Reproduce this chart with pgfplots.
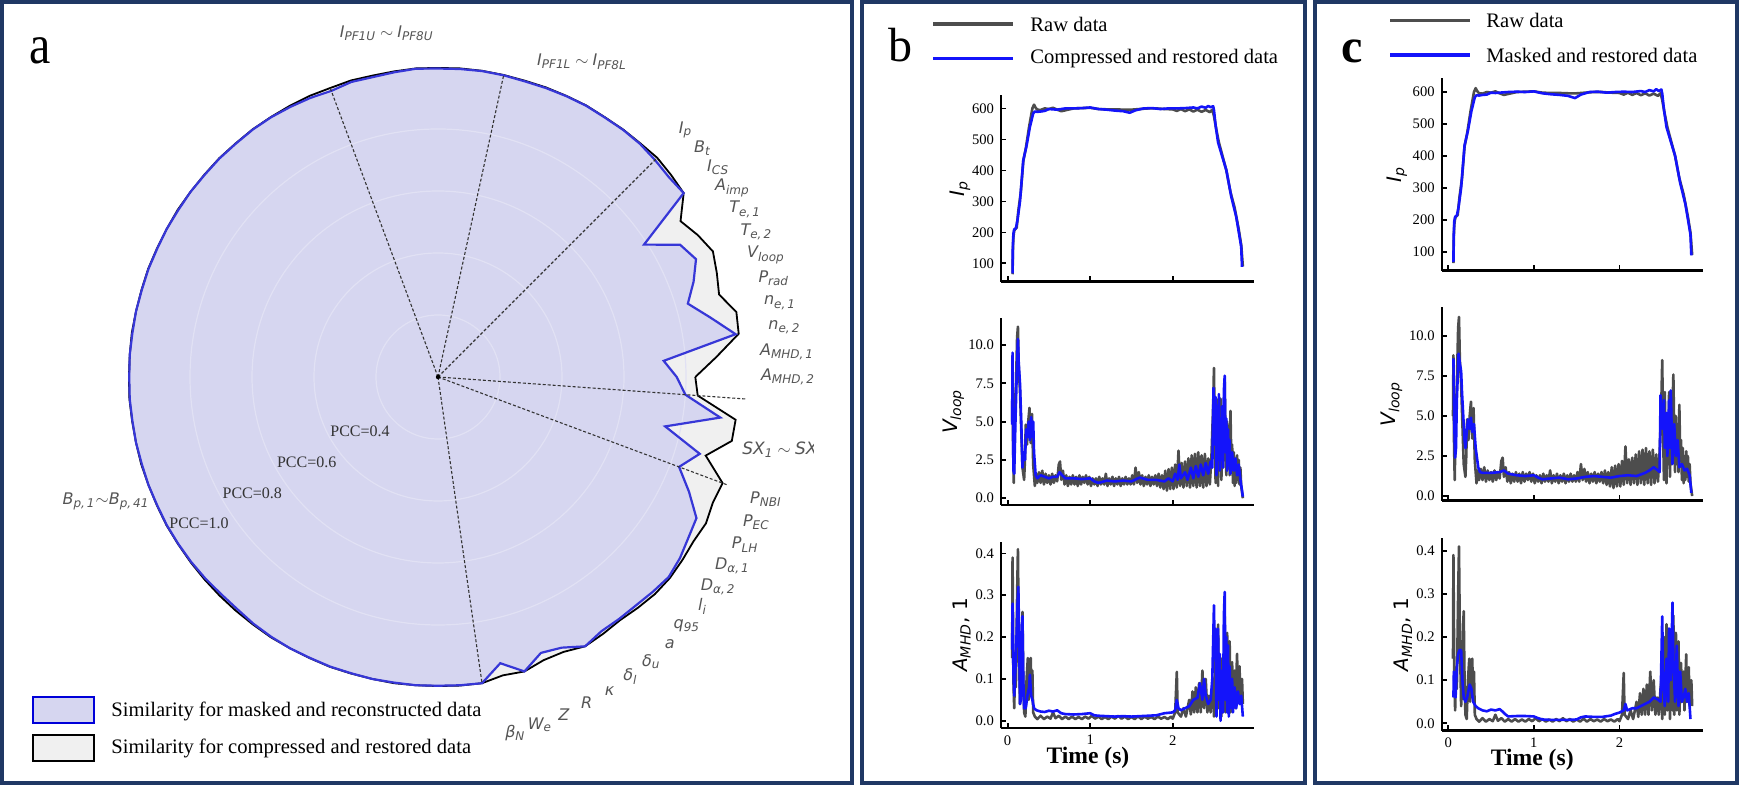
\documentclass[border=0pt]{standalone}
\usepackage{fontspec}
\setmainfont{Liberation Serif}
\newfontfamily\dvs{DejaVu Sans}
\usepackage{pgfplots}
\usepackage{pgfplotstable}
\pgfplotsset{compat=1.18}
\definecolor{navy}{HTML}{203864}
\definecolor{rawgrey}{RGB}{77,77,77}
\definecolor{myblue}{RGB}{20,20,250}
\definecolor{lav}{RGB}{214,214,240}
\definecolor{lgrey}{RGB}{240,240,240}
\definecolor{rblue}{RGB}{55,55,215}
\definecolor{labgrey}{RGB}{85,85,85}
\definecolor{ringc}{RGB}{225,225,244}
\newcommand{\rl}[2]{{\dvs\itshape #1\textsubscript{#2}}}
\def\dA{4.0909091}

% ---------------- radar data: k (angle = k*360/88), m = masked, c = compressed
\pgfplotstableread{
k m c
0 0.77 0.83
1 0.73 0.90
2 0.97 0.98
3 0.90 0.985
4 0.84 0.945
5 0.88 0.96
6 0.915 0.975
7 0.89 0.955
8 0.79 0.93
9 0.99 0.99
10 0.985 0.995
11 0.99 1.0
12 0.995 0.997
13 0.996 0.997
14 0.995 0.996
15 0.997 0.998
16 0.996 0.997
17 0.995 0.997
18 0.994 0.996
19 0.996 0.997
20 0.997 0.998
21 0.996 0.998
22 0.995 0.997
23 0.997 0.998
24 0.993 0.996
25 0.990 0.995
26 0.992 0.997
27 0.985 0.995
28 0.990 0.997
29 0.993 0.997
30 0.996 0.997
31 0.997 0.998
32 0.996 0.997
33 0.997 0.998
34 0.996 0.997
35 0.997 0.997
36 0.996 0.998
37 0.997 0.997
38 0.996 0.997
39 0.997 0.998
40 0.996 0.997
41 0.997 0.997
42 0.996 0.998
43 0.997 0.997
44 0.996 0.997
45 0.997 0.998
46 0.996 0.997
47 0.997 0.997
48 0.996 0.998
49 0.997 0.997
50 0.996 0.997
51 0.997 0.998
52 0.996 0.997
53 0.995 0.997
54 0.993 0.997
55 0.990 0.997
56 0.990 0.997
57 0.994 0.997
58 0.996 0.998
59 0.997 0.997
60 0.996 0.997
61 0.997 0.998
62 0.996 0.997
63 0.997 0.997
64 0.996 0.998
65 0.997 0.997
66 0.996 0.997
67 0.997 0.998
68 0.998 0.998
69 0.945 0.985
70 0.99 0.99
71 0.95 0.975
72 0.96 0.975
73 0.99 0.99
74 0.975 0.985
75 0.975 0.98
76 0.975 0.985
77 0.98 0.99
78 0.985 0.99
79 0.975 0.985
80 0.96 0.98
81 0.95 0.985
82 0.89 0.975
83 0.83 0.98
84 0.88 0.90
85 0.75 0.97
86 0.92 0.97
87 0.80 0.84
88 0.77 0.83
}\radar

% ---------------- time series
\pgfplotstableread{
t v
0.060 65
0.065 150
0.070 185
0.080 205
0.095 212
0.110 215
0.130 270
0.160 330
0.190 430
0.220 470
0.260 540
0.300 600
0.320 612
0.340 602
0.360 596
0.400 595
0.450 600
0.500 598
0.550 602
0.600 596
0.650 591
0.700 594
0.800 600
0.900 601
1.000 602
1.100 598
1.200 597
1.300 597
1.400 596
1.500 596
1.600 598
1.700 600
1.800 600
1.900 598
2.000 597
2.050 592
2.100 598
2.150 591
2.200 597
2.250 590
2.300 596
2.350 589
2.400 595
2.450 588
2.480 596
2.500 575
2.530 530
2.560 490
2.600 450
2.650 400
2.700 330
2.750 280
2.800 210
2.830 160
2.850 90
}\rawIp

\pgfplotstableread{
t v
0.060 68
0.063 150
0.070 195
0.080 210
0.100 213
0.120 240
0.150 300
0.190 433
0.230 480
0.270 540
0.310 584
0.330 590
0.360 589
0.400 590
0.450 592
0.500 598
0.550 597
0.600 596
0.650 598
0.700 600
0.800 600
0.900 601
1.000 603
1.100 598
1.200 596
1.300 593
1.400 591
1.480 586
1.550 594
1.650 600
1.750 601
1.850 598
1.950 600
2.050 600
2.150 601
2.250 603
2.300 600
2.350 606
2.400 602
2.430 608
2.460 604
2.490 607
2.500 595
2.520 545
2.550 490
2.600 445
2.650 401
2.710 315
2.770 250
2.830 154
2.840 89
}\bIp

\pgfplotstableread{
t v
0.060 68
0.063 150
0.070 195
0.080 210
0.100 213
0.120 240
0.150 300
0.190 433
0.230 480
0.270 540
0.310 584
0.330 590
0.360 589
0.400 591
0.450 592
0.500 598
0.550 597
0.600 598
0.700 600
0.800 601
0.900 600
1.000 602
1.100 596
1.200 593
1.300 591
1.400 588
1.480 581
1.550 592
1.650 600
1.750 601
1.850 598
1.950 600
2.050 601
2.150 600
2.250 603
2.300 600
2.350 606
2.400 602
2.430 609
2.460 603
2.490 608
2.500 595
2.520 545
2.550 490
2.600 445
2.650 401
2.710 315
2.770 250
2.830 154
2.840 89
}\cIp

\pgfplotstableread{
t v
0.055 5.0
0.060 8.8
0.065 4.0
0.075 1.0
0.085 4.5
0.100 7.0
0.115 10.5
0.125 11.2
0.135 8.5
0.150 7.0
0.165 4.5
0.180 2.0
0.200 1.2
0.210 2.5
0.220 4.8
0.235 3.5
0.250 5.0
0.265 5.9
0.280 3.6
0.295 5.5
0.310 2.2
0.330 0.8
0.345 1.6
0.36 1.0
0.38 1.7
0.40 1.0
0.42 1.8
0.44 0.9
0.46 1.6
0.48 1.0
0.50 1.5
0.52 0.9
0.54 1.6
0.56 1.0
0.58 1.5
0.60 1.1
0.62 2.2
0.635 2.4
0.65 1.2
0.67 1.8
0.69 0.9
0.71 1.5
0.73 0.8
0.75 1.4
0.77 0.9
0.79 1.5
0.81 0.9
0.83 1.4
0.85 0.8
0.87 1.5
0.89 0.9
0.91 1.4
0.93 1.0
0.95 1.5
0.97 0.9
0.99 1.4
1.01 0.8
1.03 1.3
1.05 0.9
1.07 1.3
1.09 0.8
1.11 1.4
1.13 0.9
1.15 1.3
1.17 0.9
1.19 1.6
1.21 0.8
1.23 1.3
1.25 0.9
1.27 1.4
1.29 0.8
1.31 1.3
1.33 0.9
1.35 1.4
1.37 0.8
1.39 1.3
1.41 0.9
1.43 1.4
1.45 0.9
1.47 1.3
1.49 0.9
1.51 1.5
1.53 0.9
1.55 2.0
1.57 1.0
1.59 1.7
1.61 0.9
1.63 1.5
1.65 0.8
1.67 1.4
1.69 0.9
1.71 1.5
1.73 0.8
1.75 1.4
1.77 0.9
1.79 1.5
1.81 0.8
1.83 1.6
1.85 0.7
1.87 1.5
1.89 0.6
1.91 1.8
1.93 0.5
1.95 1.9
1.97 0.6
1.99 2.0
2.01 0.6
2.03 2.2
2.05 0.7
2.07 3.1
2.09 0.8
2.11 2.3
2.13 0.7
2.15 2.4
2.17 0.8
2.19 2.6
2.21 0.7
2.23 2.8
2.25 0.8
2.27 2.9
2.29 0.7
2.31 3.0
2.33 0.8
2.35 2.8
2.37 0.7
2.39 2.9
2.41 0.8
2.43 2.6
2.45 0.9
2.47 2.8
2.49 6.0
2.50 8.5
2.51 4.0
2.52 1.0
2.53 6.5
2.54 3.0
2.55 0.8
2.56 5.0
2.57 2.0
2.58 6.5
2.59 1.2
2.60 4.5
2.61 2.0
2.62 5.5
2.63 7.6
2.64 4.0
2.65 1.5
2.66 5.0
2.67 2.0
2.68 4.5
2.69 1.5
2.70 5.7
2.71 2.5
2.72 3.5
2.73 1.0
2.74 3.0
2.75 0.8
2.76 2.5
2.77 1.0
2.78 2.8
2.79 1.2
2.80 2.5
2.81 0.9
2.82 2.0
2.83 0.8
2.85 0.0
}\rawV

\pgfplotstableread{
t v
0.055 4.8
0.060 9.5
0.070 1.8
0.080 1.6
0.095 5.0
0.110 8.0
0.125 10.4
0.135 8.8
0.150 7.5
0.165 5.0
0.180 2.0
0.195 3.0
0.210 2.5
0.225 4.5
0.240 4.0
0.255 5.0
0.270 3.8
0.285 5.3
0.300 4.0
0.310 5.0
0.320 3.0
0.340 1.5
0.36 1.3
0.40 1.5
0.45 1.4
0.50 1.3
0.55 1.4
0.60 1.4
0.63 1.7
0.66 1.5
0.70 1.3
0.80 1.3
0.90 1.25
1.00 1.3
1.05 1.1
1.10 1.0
1.20 1.15
1.30 1.1
1.40 1.15
1.50 1.1
1.60 1.35
1.70 1.2
1.80 1.2
1.90 1.1
1.95 1.3
2.00 1.1
2.03 1.6
2.06 1.2
2.08 2.2
2.10 1.3
2.15 1.7
2.18 1.2
2.22 2.0
2.25 1.3
2.28 2.1
2.31 1.4
2.34 2.2
2.37 1.5
2.40 2.3
2.43 1.6
2.46 2.4
2.48 2.0
2.495 7.2
2.51 3.5
2.52 6.6
2.53 1.5
2.54 5.5
2.55 2.5
2.56 6.8
2.57 1.8
2.58 5.0
2.59 2.5
2.60 6.0
2.61 2.0
2.62 7.0
2.63 8.0
2.64 3.0
2.65 5.2
2.66 1.8
2.67 4.5
2.68 2.2
2.69 3.8
2.70 1.6
2.72 3.0
2.74 1.8
2.76 2.6
2.78 1.5
2.80 2.2
2.82 1.2
2.84 0.5
2.85 0.1
}\bV

\pgfplotstableread{
t v
0.060 8.6
0.070 4.5
0.080 2.4
0.090 3.0
0.100 6.0
0.120 8.9
0.135 8.3
0.150 7.8
0.160 6.5
0.175 5.0
0.190 3.5
0.200 3.0
0.215 4.0
0.230 4.8
0.250 4.2
0.265 4.9
0.280 4.0
0.300 4.5
0.320 3.0
0.350 1.8
0.370 1.5
0.40 1.45
0.50 1.45
0.60 1.5
0.65 1.6
0.70 1.4
0.80 1.3
0.90 1.25
1.00 1.3
1.05 1.15
1.10 1.05
1.20 1.1
1.30 1.15
1.40 1.05
1.50 1.1
1.60 1.2
1.70 1.25
1.80 1.2
1.90 1.15
2.00 1.25
2.10 1.3
2.20 1.25
2.30 1.45
2.35 1.6
2.40 1.8
2.45 1.6
2.47 1.5
2.48 6.3
2.50 4.2
2.52 6.0
2.53 3.0
2.55 5.2
2.56 2.5
2.58 6.0
2.59 3.0
2.60 6.6
2.62 2.0
2.64 4.5
2.66 2.5
2.68 3.5
2.70 1.8
2.73 2.0
2.76 1.6
2.79 1.7
2.82 1.3
2.84 0.2
}\cV

\pgfplotstableread{
t v
0.055 0.15
0.060 0.39
0.065 0.25
0.070 0.10
0.080 0.03
0.090 0.12
0.100 0.08
0.115 0.30
0.125 0.41
0.135 0.20
0.150 0.04
0.160 0.08
0.170 0.20
0.180 0.26
0.190 0.10
0.200 0.02
0.215 0.01
0.230 0.10
0.245 0.15
0.255 0.05
0.265 0.13
0.280 0.15
0.290 0.06
0.300 0.12
0.310 0.02
0.330 0.01
0.36 0.004
0.40 0.012
0.44 0.004
0.48 0.010
0.52 0.005
0.55 0.020
0.58 0.006
0.62 0.012
0.66 0.004
0.70 0.010
0.74 0.004
0.78 0.010
0.82 0.004
0.86 0.009
0.90 0.004
0.94 0.010
0.98 0.005
1.02 0.012
1.06 0.005
1.10 0.010
1.14 0.004
1.18 0.009
1.22 0.004
1.26 0.010
1.30 0.005
1.34 0.012
1.38 0.005
1.42 0.010
1.46 0.004
1.50 0.009
1.54 0.004
1.58 0.011
1.62 0.004
1.66 0.010
1.70 0.005
1.74 0.009
1.78 0.004
1.82 0.010
1.86 0.005
1.90 0.009
1.94 0.004
1.98 0.010
2.00 0.005
2.03 0.020
2.05 0.117
2.06 0.020
2.10 0.010
2.13 0.030
2.16 0.010
2.20 0.050
2.22 0.015
2.24 0.070
2.26 0.020
2.28 0.080
2.30 0.020
2.32 0.090
2.34 0.020
2.36 0.120
2.38 0.030
2.40 0.100
2.42 0.020
2.44 0.060
2.46 0.020
2.48 0.080
2.49 0.100
2.50 0.010
2.52 0.200
2.53 0.020
2.55 0.230
2.56 0.030
2.58 0.150
2.59 0.010
2.60 0.120
2.62 0.030
2.63 0.250
2.64 0.020
2.66 0.210
2.67 0.030
2.69 0.190
2.70 0.020
2.72 0.140
2.73 0.050
2.75 0.120
2.76 0.030
2.78 0.160
2.79 0.050
2.81 0.130
2.82 0.040
2.84 0.100
2.85 0.040
}\rawA

\pgfplotstableread{
t v
0.055 0.17
0.060 0.28
0.070 0.12
0.080 0.06
0.100 0.15
0.120 0.28
0.130 0.32
0.140 0.20
0.150 0.04
0.160 0.05
0.170 0.18
0.180 0.25
0.190 0.10
0.200 0.03
0.220 0.03
0.240 0.06
0.260 0.08
0.270 0.11
0.285 0.06
0.300 0.05
0.320 0.03
0.350 0.025
0.40 0.022
0.45 0.021
0.50 0.024
0.55 0.022
0.60 0.025
0.65 0.018
0.70 0.016
0.80 0.015
0.90 0.016
1.00 0.018
1.05 0.013
1.10 0.012
1.20 0.011
1.30 0.010
1.40 0.011
1.50 0.010
1.60 0.011
1.70 0.012
1.80 0.013
1.90 0.018
2.00 0.020
2.03 0.025
2.05 0.050
2.07 0.030
2.10 0.025
2.15 0.030
2.20 0.035
2.25 0.050
2.30 0.055
2.33 0.090
2.36 0.050
2.38 0.100
2.40 0.060
2.43 0.040
2.46 0.050
2.48 0.100
2.50 0.276
2.51 0.150
2.52 0.220
2.53 0.010
2.54 0.100
2.55 0.220
2.56 0.050
2.57 0.160
2.58 0.000
2.60 0.120
2.61 0.020
2.62 0.250
2.63 0.308
2.64 0.050
2.65 0.200
2.66 0.020
2.67 0.180
2.68 0.010
2.69 0.130
2.70 0.030
2.72 0.100
2.73 0.020
2.75 0.080
2.77 0.030
2.79 0.070
2.81 0.040
2.83 0.060
2.85 0.010
}\bA

\pgfplotstableread{
t v
0.060 0.06
0.065 0.12
0.075 0.10
0.085 0.06
0.100 0.13
0.115 0.16
0.130 0.17
0.150 0.17
0.165 0.10
0.180 0.06
0.200 0.05
0.220 0.06
0.250 0.09
0.270 0.08
0.290 0.05
0.320 0.04
0.35 0.035
0.40 0.030
0.45 0.028
0.50 0.032
0.55 0.030
0.60 0.033
0.63 0.028
0.66 0.022
0.70 0.016
0.80 0.017
0.90 0.017
1.00 0.016
1.05 0.012
1.10 0.009
1.20 0.008
1.30 0.008
1.40 0.008
1.50 0.009
1.55 0.014
1.60 0.016
1.70 0.015
1.80 0.015
1.90 0.018
1.95 0.022
2.00 0.025
2.05 0.030
2.07 0.045
2.09 0.030
2.15 0.035
2.20 0.035
2.25 0.040
2.30 0.045
2.35 0.050
2.40 0.060
2.45 0.055
2.48 0.050
2.50 0.248
2.51 0.100
2.53 0.040
2.55 0.150
2.57 0.050
2.58 0.220
2.60 0.100
2.62 0.280
2.63 0.150
2.65 0.050
2.67 0.180
2.69 0.040
2.71 0.120
2.73 0.050
2.75 0.060
2.77 0.080
2.79 0.050
2.81 0.070
2.83 0.010
}\cA

\pgfplotsset{
  ts/.style={
    scale only axis,
    axis x line*=bottom, axis y line*=left,
    axis line style={line width=1.2pt,-},
    tick align=inside, major tick length=2.6pt,
    every tick/.style={line width=0.9pt, black},
    ticklabel style={font=\rmfamily\fontsize{7.3}{8}\selectfont},
    /pgf/number format/assume math mode=true,
    xtick={0,1,2},
    every axis plot/.append style={line width=1.3pt, line join=round},
  },
  ipax/.style={ts, ymin=41, ymax=643, ytick={100,200,300,400,500,600}, xticklabels={,,}},
  vax/.style={ts, ymin=-0.44, ymax=11.74, ytick={0,2.5,5,7.5,10}, xticklabels={,,},
     yticklabel style={/pgf/number format/.cd, fixed, fixed zerofill, precision=1}},
  aax/.style={ts, ymin=-0.018, ymax=0.428, ytick={0,0.1,0.2,0.3,0.4},
     yticklabel style={/pgf/number format/.cd, fixed, fixed zerofill, precision=1},
     xlabel={Time (s)}},
}

\begin{document}
\begin{tikzpicture}
\path[use as bounding box] (0,0) rectangle (870.5pt,393pt);

% ================= panel a : radar ==================
\begin{axis}[
  at={(17.5pt,3pt)}, anchor=south west,
  x=155pt, y=155pt, xmin=-1.3, xmax=1.3, ymin=-1.3, ymax=1.3,
  hide axis, clip=false]
\addplot[draw=none, fill=lgrey] table[x expr={\thisrow{c}*cos(\thisrow{k}*\dA)}, y expr={\thisrow{c}*sin(\thisrow{k}*\dA)}] {\radar};
\addplot[draw=none, fill=lav] table[x expr={\thisrow{m}*cos(\thisrow{k}*\dA)}, y expr={\thisrow{m}*sin(\thisrow{k}*\dA)}] {\radar};
\draw[ringc, line width=0.6pt] (axis cs:0,0) circle[radius=31pt];
\draw[ringc, line width=0.6pt] (axis cs:0,0) circle[radius=62pt];
\draw[ringc, line width=0.6pt] (axis cs:0,0) circle[radius=93pt];
\draw[ringc, line width=0.6pt] (axis cs:0,0) circle[radius=124pt];
\addplot[black, line width=0.9pt] table[x expr={\thisrow{c}*cos(\thisrow{k}*\dA)}, y expr={\thisrow{c}*sin(\thisrow{k}*\dA)}] {\radar};
\addplot[rblue, line width=1.1pt] table[x expr={\thisrow{m}*cos(\thisrow{k}*\dA)}, y expr={\thisrow{m}*sin(\thisrow{k}*\dA)}] {\radar};
\end{axis}

\begin{scope}[shift={(219pt,204.5pt)}]
  \foreach \a in {110.4545,77.7273,45,355.9091,339.5455,278.1818}{
    \draw[black!80, line width=0.55pt, dash pattern=on 1.5pt off 1pt] (0,0) -- (\a:155pt);
  }
  \fill[black] (0,0) circle[radius=1.1pt];
  \begin{scope}[every node/.style={text=labgrey, font=\fontsize{8}{9}\selectfont, inner sep=0pt}]
  \node at ({11*\dA}:175pt) {\rl{I}{p}};
  \node at ({10*\dA}:175pt) {\rl{B}{t}};
  \node at ({9*\dA}:175pt) {\rl{I}{CS}};
  \node at ({8*\dA}:175pt) {\rl{A}{imp}};
  \node at ({7*\dA}:175pt) {\rl{T}{e,\,1}};
  \node at ({6*\dA}:175pt) {\rl{T}{e,\,2}};
  \node at ({5*\dA}:175pt) {\rl{V}{loop}};
  \node at ({4*\dA}:175pt) {\rl{P}{rad}};
  \node at ({3*\dA}:175pt) {\rl{n}{e,\,1}};
  \node at ({2*\dA}:175pt) {\rl{n}{e,\,2}};
  \node at ({1*\dA}:175pt) {\rl{A}{MHD,\,1}};
  \node at ({0*\dA}:175pt) {\rl{A}{MHD,\,2}};
  \node at ({83*\dA}:175pt) {\rl{P}{NBI}};
  \node at ({82*\dA}:175pt) {\rl{P}{EC}};
  \node at ({81*\dA}:175pt) {\rl{P}{LH}};
  \node at ({80*\dA}:175pt) {\rl{D}{α,\,1}};
  \node at ({79*\dA}:175pt) {\rl{D}{α,\,2}};
  \node at ({78*\dA}:175pt) {\rl{l}{i}};
  \node at ({77*\dA}:176pt) {\rl{q}{95}};
  \node at ({76*\dA}:177pt) {{\dvs\itshape a}};
  \node at ({75*\dA}:178pt) {\rl{δ}{u}};
  \node at ({74*\dA}:178pt) {\rl{δ}{l}};
  \node at ({73*\dA}:179pt) {{\dvs\itshape κ}};
  \node at ({72*\dA}:179pt) {{\dvs\itshape R}};
  \node at ({71*\dA}:180pt) {{\dvs\itshape Z}};
  \node at ({70*\dA}:181pt) {\rl{W}{e}};
  \node at ({69*\dA}:182pt) {\rl{β}{N}};
  \end{scope}
\end{scope}

% group labels
\node[text=labgrey, font=\fontsize{8}{9}\selectfont] at (193.35pt,376.35pt) {\rl{I}{PF1U} $\sim$ \rl{I}{PF8U}};
\node[text=labgrey, font=\fontsize{8}{9}\selectfont] at (291pt,362.15pt) {\rl{I}{PF1L} $\sim$ \rl{I}{PF8L}};
\node[text=labgrey, font=\fontsize{8}{9}\selectfont] at (53pt,142.15pt) {\rl{B}{p,\,1}$\sim$\rl{B}{p,\,41}};
\begin{scope}
  \clip (300pt,150pt) rectangle (406.5pt,190pt);
  \node[text=labgrey, font=\fontsize{8.5}{9}\selectfont, anchor=west, inner sep=0pt] at (371pt,168pt) {\rl{SX}{1} $\sim$ \rl{SX}{4}};
\end{scope}
% PCC labels
\begin{scope}[every node/.style={text=black!80, font=\fontsize{8}{9}\selectfont, inner sep=0pt}]
  \node at (180pt,177.15pt) {PCC=0.4};
  \node at (153.35pt,161.65pt) {PCC=0.6};
  \node at (126.15pt,146.35pt) {PCC=0.8};
  \node at (99.5pt,131.35pt) {PCC=1.0};
\end{scope}
% legend a
\draw[blue!85!black, line width=1.1pt, fill=lav] (16.5pt,31.5pt) rectangle (47pt,44.5pt);
\draw[black, line width=1.3pt, fill=lgrey] (16.5pt,12.5pt) rectangle (47pt,25.5pt);
\node[anchor=west, inner sep=0pt, font=\fontsize{10.3}{12}\selectfont] at (55.5pt,37.5pt) {Similarity for masked and reconstructed data};
\node[anchor=west, inner sep=0pt, font=\fontsize{10.3}{12}\selectfont] at (55.5pt,18.7pt) {Similarity for compressed and restored data};
\node[font=\fontsize{24}{24}\selectfont] at (20.25pt,367.5pt) {\scalebox{1}[1.15]{a}};

% ================= panel b ==================
\begin{axis}[ipax, at={(500.5pt,252.15pt)}, anchor=south west, width=126.7pt, height=93.3pt,
  xmin=-0.08, xmax=2.99,
  ylabel={\fontsize{10}{12}\dvs\itshape I\textsubscript{p}},
  ylabel style={at={(axis description cs:-0.162,0.5)}, anchor=center}]
\addplot[rawgrey] table[x=t,y=v] {\rawIp};
\addplot[myblue] table[x=t,y=v] {\bIp};
\end{axis}
\begin{axis}[vax, at={(500.5pt,140.5pt)}, anchor=south west, width=126.7pt, height=93.3pt,
  xmin=-0.08, xmax=2.99,
  ylabel={\fontsize{10}{12}\dvs\itshape V\textsubscript{loop}},
  ylabel style={at={(axis description cs:-0.188,0.5)}, anchor=center}]
\addplot[rawgrey] table[x=t,y=v] {\rawV};
\addplot[myblue] table[x=t,y=v] {\bV};
\end{axis}
\begin{axis}[aax, at={(500.5pt,28.85pt)}, anchor=south west, width=126.7pt, height=93.3pt,
  xmin=-0.08, xmax=2.99,
  ylabel={\fontsize{10}{12}\dvs{\itshape A\textsubscript{MHD}}, 1},
  ylabel style={at={(axis description cs:-0.155,0.5)}, anchor=center},
  xlabel style={at={(axis description cs:0.343,-0.16)}, anchor=center, font=\fontsize{11.8}{13}\selectfont\bfseries}]
\addplot[rawgrey] table[x=t,y=v] {\rawA};
\addplot[myblue] table[x=t,y=v] {\bA};
\end{axis}
\node[font=\fontsize{24}{24}\selectfont] at (450pt,370.5pt) {b};
\draw[rawgrey, line width=1.6pt] (466.5pt,381pt) -- (506.5pt,381pt);
\draw[myblue, line width=1.6pt] (466.5pt,363.85pt) -- (506.5pt,363.85pt);
\node[anchor=west, inner sep=0pt, font=\fontsize{10.3}{12}\selectfont] at (515pt,381pt) {Raw data};
\node[anchor=west, inner sep=0pt, font=\fontsize{10.3}{12}\selectfont] at (515pt,363.85pt) {Compressed and restored data};

% ================= panel c ==================
\begin{axis}[ipax, at={(720.85pt,257.65pt)}, anchor=south west, width=130.8pt, height=96.2pt,
  xmin=-0.077, xmax=2.98,
  ylabel={\fontsize{10}{12}\dvs\itshape I\textsubscript{p}},
  ylabel style={at={(axis description cs:-0.172,0.5)}, anchor=center}]
\addplot[rawgrey] table[x=t,y=v] {\rawIp};
\addplot[myblue] table[x=t,y=v] {\cIp};
\end{axis}
\begin{axis}[vax, at={(720.85pt,142.65pt)}, anchor=south west, width=130.8pt, height=96.7pt,
  xmin=-0.077, xmax=2.98, ymin=-0.29, ymax=11.8,
  ylabel={\fontsize{10}{12}\dvs\itshape V\textsubscript{loop}},
  ylabel style={at={(axis description cs:-0.191,0.5)}, anchor=center}]
\addplot[rawgrey] table[x=t,y=v] {\rawV};
\addplot[myblue] table[x=t,y=v] {\cV};
\end{axis}
\begin{axis}[aax, at={(720.85pt,27.65pt)}, anchor=south west, width=130.8pt, height=96.2pt,
  xmin=-0.077, xmax=2.98, ymin=-0.017, ymax=0.429,
  ylabel={\fontsize{10}{12}\dvs{\itshape A\textsubscript{MHD}}, 1},
  ylabel style={at={(axis description cs:-0.147,0.5)}, anchor=center},
  xlabel style={at={(axis description cs:0.346,-0.152)}, anchor=center, font=\fontsize{11.8}{13}\selectfont\bfseries}]
\addplot[rawgrey] table[x=t,y=v] {\rawA};
\addplot[myblue] table[x=t,y=v] {\cA};
\end{axis}
\node[font=\fontsize{24}{24}\selectfont\bfseries] at (676pt,367.5pt) {c};
\draw[rawgrey, line width=1.6pt] (695pt,382.65pt) -- (735pt,382.65pt);
\draw[myblue, line width=1.6pt] (695pt,365.5pt) -- (735pt,365.5pt);
\node[anchor=west, inner sep=0pt, font=\fontsize{10.3}{12}\selectfont] at (743pt,382.65pt) {Raw data};
\node[anchor=west, inner sep=0pt, font=\fontsize{10.3}{12}\selectfont] at (743pt,365.5pt) {Masked and restored data};

% ================= frames ==================
\draw[navy, line width=2pt] (1pt,1.65pt) rectangle (426pt,392pt);
\draw[navy, line width=2pt] (431pt,1.65pt) rectangle (652.5pt,392pt);
\draw[navy, line width=2pt] (657.5pt,1.65pt) rectangle (868.5pt,392pt);
\end{tikzpicture}
\end{document}
